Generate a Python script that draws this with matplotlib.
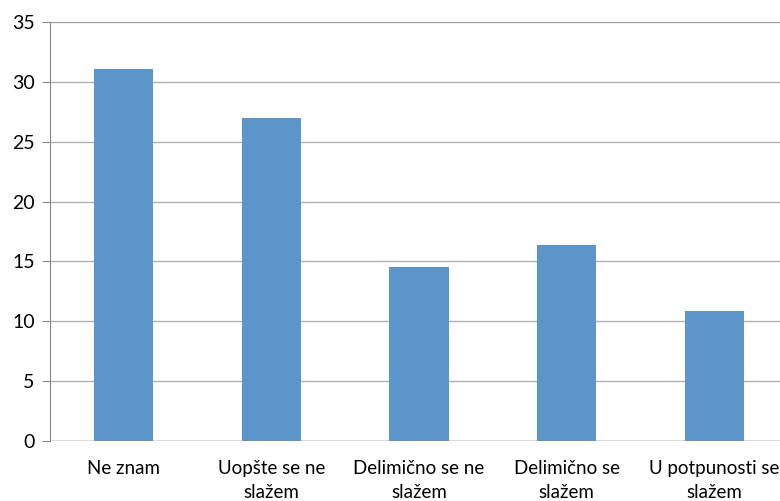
import matplotlib.pyplot as plt

categories = ['Ne znam', 'Uopšte se ne\nslažem', 'Delimično se ne\nslažem',
              'Delimično se\nslažem', 'U potpunosti se\nslažem']
values = [31.1, 27.0, 14.5, 16.4, 10.9]
yticks = [0, 5, 10, 15, 20, 25, 30, 35]

plt.rcParams['font.family'] = ['Lato', 'DejaVu Sans']

fig = plt.figure(figsize=(7.8, 5.01), dpi=100)
ax = fig.add_axes([50 / 780, 60 / 501, 738 / 780, 419 / 501])

ax.bar(range(len(values)), values, width=0.4, color='#5B95CA', zorder=3)
ax.set_xlim(-0.5, len(values) - 0.5)
ax.set_ylim(0, 35)
ax.set_yticks(yticks)
ax.set_xticks(range(len(values)))
ax.set_xticklabels(categories, fontsize=13.5, linespacing=1.45)
ax.tick_params(axis='y', labelsize=14, length=6, color='#888888', pad=5)
ax.tick_params(axis='x', length=0, pad=14)
ax.yaxis.grid(True, color='#B0B0B0', linewidth=1, zorder=0)

for side in ['top', 'right', 'bottom']:
    ax.spines[side].set_visible(False)
ax.spines['left'].set_color('#888888')
ax.axhline(0, color='#888888', linewidth=1, zorder=4)
ax.axhline(35, color='#999999', linewidth=1.2, zorder=4)

fig.savefig('out.png', dpi=100)
